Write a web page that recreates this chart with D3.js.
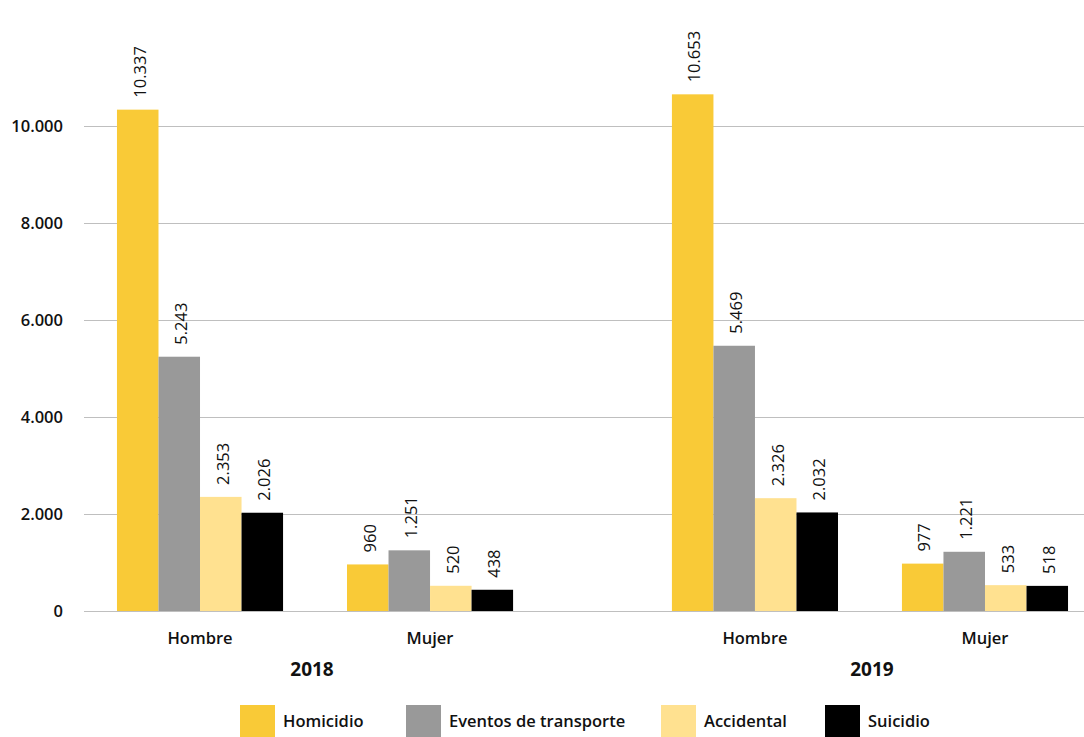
<!DOCTYPE html>
<html>
<head>
<meta charset="utf-8">
<script src="https://cdn.jsdelivr.net/npm/d3@7"></script>
<style>
  html, body { margin: 0; padding: 0; background: #fff; }
  svg { display: block; font-family: "Open Sans", "Noto Sans", sans-serif; }
</style>
</head>
<body>
<svg id="chart" width="1084" height="737"></svg>
<script>
// Defunciones por tipo de muerte, sexo y año
const years = ["2018", "2019"];
const sexes = ["Hombre", "Mujer"];
const series = ["Homicidio", "Eventos de transporte", "Accidental", "Suicidio"];
const colors = ["#F9CA37", "#999999", "#FFE190", "#000000"];

// values[year][sex] -> one value per series
const homicidio  = { "2018": { Hombre: 10337, Mujer: 960 },  "2019": { Hombre: 10653, Mujer: 977 } };
const transporte = { "2018": { Hombre: 5243,  Mujer: 1251 }, "2019": { Hombre: 5469,  Mujer: 1221 } };
const accidental = { "2018": { Hombre: 2353,  Mujer: 520 },  "2019": { Hombre: 2326,  Mujer: 533 } };
const suicidio   = { "2018": { Hombre: 2026,  Mujer: 438 },  "2019": { Hombre: 2032,  Mujer: 518 } };
const seriesValues = [homicidio, transporte, accidental, suicidio];

const yTicks = [0, 2000, 4000, 6000, 8000, 10000];

const locale = d3.formatLocale({ decimal: ",", thousands: ".", grouping: [3], currency: ["$", ""] });
const fmt = locale.format(",d");

const svg = d3.select("#chart");
const W = 1084;
const FONT = "Open Sans, Noto Sans, sans-serif";

// Scales
const y = d3.scaleLinear().domain([0, 10000]).range([611, 126]);
const x0 = d3.scaleBand().domain(years).range([85, 1100]).paddingInner(0.171).paddingOuter(0);
const x1 = d3.scaleBand().domain(sexes).range([0, x0.bandwidth()]).padding(0);
const x2 = d3.scaleBand().domain(series).range([0, x1.bandwidth()]).paddingInner(0).paddingOuter(0.77);

// Gridlines
const grid = svg.append("g");
grid.selectAll("line").data(yTicks).join("line")
  .attr("x1", 84).attr("x2", W)
  .attr("y1", d => Math.round(y(d)) + 0.5).attr("y2", d => Math.round(y(d)) + 0.5)
  .attr("stroke", "#bfbfbf").attr("stroke-width", 1);

// Y axis labels
const yAxis = d3.axisLeft(y).tickValues(yTicks).tickFormat(fmt).tickSize(0).tickPadding(0);
const yg = svg.append("g").attr("transform", "translate(63,0)").call(yAxis);
yg.select(".domain").remove();
yg.selectAll("text")
  .attr("font-family", FONT)
  .attr("font-size", 16.5).attr("font-weight", 600).attr("fill", "#111");

// Bars
const rows = [];
years.forEach(yr => sexes.forEach(sx => series.forEach((s, i) => {
  rows.push({ year: yr, sex: sx, series: s, idx: i, value: seriesValues[i][yr][sx] });
})));

const barX = d => x0(d.year) + x1(d.sex) + x2(d.series);

svg.append("g").selectAll("rect").data(rows).join("rect")
  .attr("x", barX)
  .attr("width", x2.bandwidth())
  .attr("y", d => y(d.value))
  .attr("height", d => y(0) - y(d.value))
  .attr("fill", d => colors[d.idx]);

// Value labels (rotated)
svg.append("g").selectAll("text").data(rows).join("text")
  .attr("transform", d => `translate(${barX(d) + x2.bandwidth() / 2 + 2},${y(d.value) - 12}) rotate(-90)`)
  .attr("text-anchor", "start")
  .attr("dy", "0.35em")
  .attr("font-family", FONT)
  .attr("font-size", 16.5).attr("font-weight", 500).attr("fill", "#111")
  .text(d => fmt(d.value));

// Category labels
const cats = [];
years.forEach(yr => sexes.forEach(sx => cats.push({ year: yr, sex: sx })));
svg.append("g").selectAll("text").data(cats).join("text")
  .attr("x", d => x0(d.year) + x1(d.sex) + x1.bandwidth() / 2)
  .attr("y", 644)
  .attr("text-anchor", "middle")
  .attr("font-family", FONT)
  .attr("font-size", 16.5).attr("font-weight", 600).attr("fill", "#111")
  .text(d => d.sex);

// Year labels
svg.append("g").selectAll("text").data(years).join("text")
  .attr("x", d => x0(d) + x0.bandwidth() / 2 + (d === "2018" ? -3 : 2))
  .attr("y", 676)
  .attr("text-anchor", "middle")
  .attr("font-family", FONT)
  .attr("font-size", 19).attr("font-weight", 700).attr("fill", "#111")
  .text(d => d);

// Legend
const legendX = [240, 406, 661, 825];
const legend = svg.append("g").selectAll("g").data(series).join("g")
  .attr("transform", (d, i) => `translate(${legendX[i]},705)`);
legend.append("rect").attr("width", 35).attr("height", 35).attr("fill", (d, i) => colors[i]);
legend.append("text")
  .attr("x", 43).attr("y", 22)
  .attr("font-family", FONT)
  .attr("font-size", 16.5).attr("font-weight", 600).attr("fill", "#111")
  .text(d => d);
</script>
</body>
</html>
